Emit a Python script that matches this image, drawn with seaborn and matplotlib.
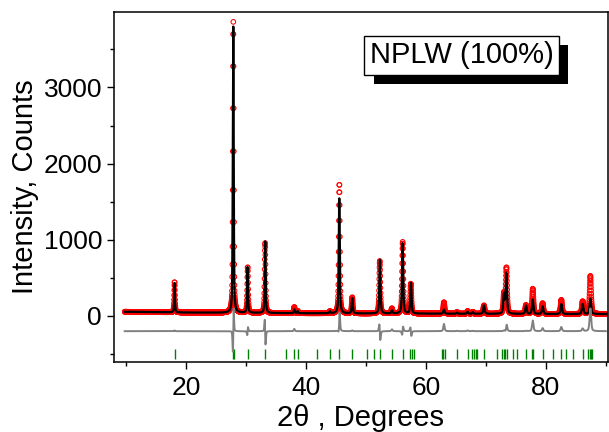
import numpy as np
import pandas as pd
import matplotlib
matplotlib.use("Agg")
import matplotlib.pyplot as plt
import matplotlib.patheffects as pe
import matplotlib.ticker as ticker
import seaborn as sns

# reflections of the refined profile: position, calculated and observed height, small obs shift
peak_pos = [18.11, 27.89, 30.28, 33.22, 38.06, 38.61, 44.0, 45.56, 47.72, 52.33, 54.33,
            56.11, 57.5, 63.0, 65.17, 66.94, 67.8, 69.67, 73.0, 73.4, 76.67, 77.8,
            79.44, 82.56, 86.11, 87.4]
calc_height = [390, 3800, 600, 940, 50, 30, 25, 1510, 200, 710, 40,
               930, 400, 55, 15, 25, 20, 110, 250, 530, 110, 190,
               100, 130, 130, 200]
obs_height = [400, 3820, 600, 920, 80, 30, 25, 1700, 210, 690, 65,
              940, 390, 150, 20, 35, 25, 110, 260, 600, 115, 330,
              140, 185, 165, 500]
obs_shift = [0.0, 0.01, 0.012, -0.025, 0.0, 0.0, 0.0, 0.01, 0.0, -0.025, 0.0,
             0.01, -0.025, 0.0, 0.0, 0.0, 0.0, 0.0, 0.0, 0.01, 0.0, 0.0,
             0.0, 0.0, 0.0, 0.0]

bkg_pos = [9.8, 20, 40, 60, 80, 90]
bkg_val = [55, 45, 35, 30, 25, 25]

# Bragg reflection markers
hkl_pos = [18.11, 27.89, 28.06, 30.28, 33.22, 36.61, 38.06, 38.61, 41.83, 44.0, 45.56,
           47.72, 50.22, 51.33, 52.33, 54.33, 56.11, 57.28, 57.61, 57.94, 62.61, 62.89,
           63.11, 65.17, 66.94, 67.72, 68.06, 68.28, 68.56, 69.67, 71.78, 72.61, 72.94,
           73.17, 73.44, 74.56, 75.22, 76.67, 77.67, 77.89, 79.44, 81.11, 82.56, 83.33,
           84.56, 86.11, 87.06, 87.28, 87.5, 87.72]

DIFF_OFFSET = -200


def profile(tt, pos, height, shift):
    y = np.interp(tt, bkg_pos, bkg_val)
    for p, h, s in zip(pos, height, shift):
        w = 0.12 + 0.002 * p
        d = (tt - p - s) / (w / 2)
        y = y + h * (0.5 / (1 + d ** 2) + 0.5 * np.exp(-np.log(2) * d ** 2))
    return y


tt = np.arange(9.8, 90.0, 0.02)
ycalc = profile(tt, peak_pos, calc_height, [0] * len(peak_pos))
yobs = profile(tt, peak_pos, obs_height, obs_shift)
df = pd.DataFrame({"tt": tt, "obs": yobs, "calc": ycalc, "diff": yobs - ycalc + DIFF_OFFSET})

plt.rcParams["font.family"] = ["Liberation Sans", "DejaVu Sans"]
fig = plt.figure(figsize=(6.09, 4.32), dpi=100)
ax = fig.add_axes([0.187, 0.162, 0.811, 0.810])

sns.scatterplot(data=df, x="tt", y="obs", ax=ax, marker="o", s=11,
                facecolor="none", edgecolor="red", linewidth=0.75, zorder=2)
sns.lineplot(data=df, x="tt", y="calc", ax=ax, color="black", lw=1.6, zorder=3)
sns.lineplot(data=df, x="tt", y="diff", ax=ax, color="#808080", lw=1.4, zorder=3)
ax.vlines(hkl_pos, -565, -430, color="#008000", lw=1)

ax.set_xlim(8, 90.3)
ax.set_ylim(-605, 3990)
ax.xaxis.set_major_locator(ticker.MultipleLocator(20))
ax.xaxis.set_minor_locator(ticker.MultipleLocator(10))
ax.yaxis.set_major_locator(ticker.MultipleLocator(1000))
ax.yaxis.set_minor_locator(ticker.MultipleLocator(500))
ax.tick_params(which="major", length=5, width=1, labelsize=19)
ax.tick_params(axis="x", which="major", pad=5)
ax.tick_params(which="minor", length=3, width=1)
for s in ax.spines.values():
    s.set_linewidth(1.1)

ax.set_xlabel("2θ , Degrees", fontsize=21, labelpad=3)
ax.set_ylabel("Intensity, Counts", fontsize=21, labelpad=3)

t = ax.text(0.704, 0.876, "NPLW (100%)", transform=ax.transAxes, fontsize=21,
            ha="center", va="center",
            bbox=dict(boxstyle="square,pad=0.18", fc="white", ec="black", lw=1))
t.get_bbox_patch().set_path_effects([
    pe.SimplePatchShadow(offset=(7, -6.5), shadow_rgbFace="black", alpha=1),
    pe.Normal()])

fig.savefig("out.png", dpi=100)
